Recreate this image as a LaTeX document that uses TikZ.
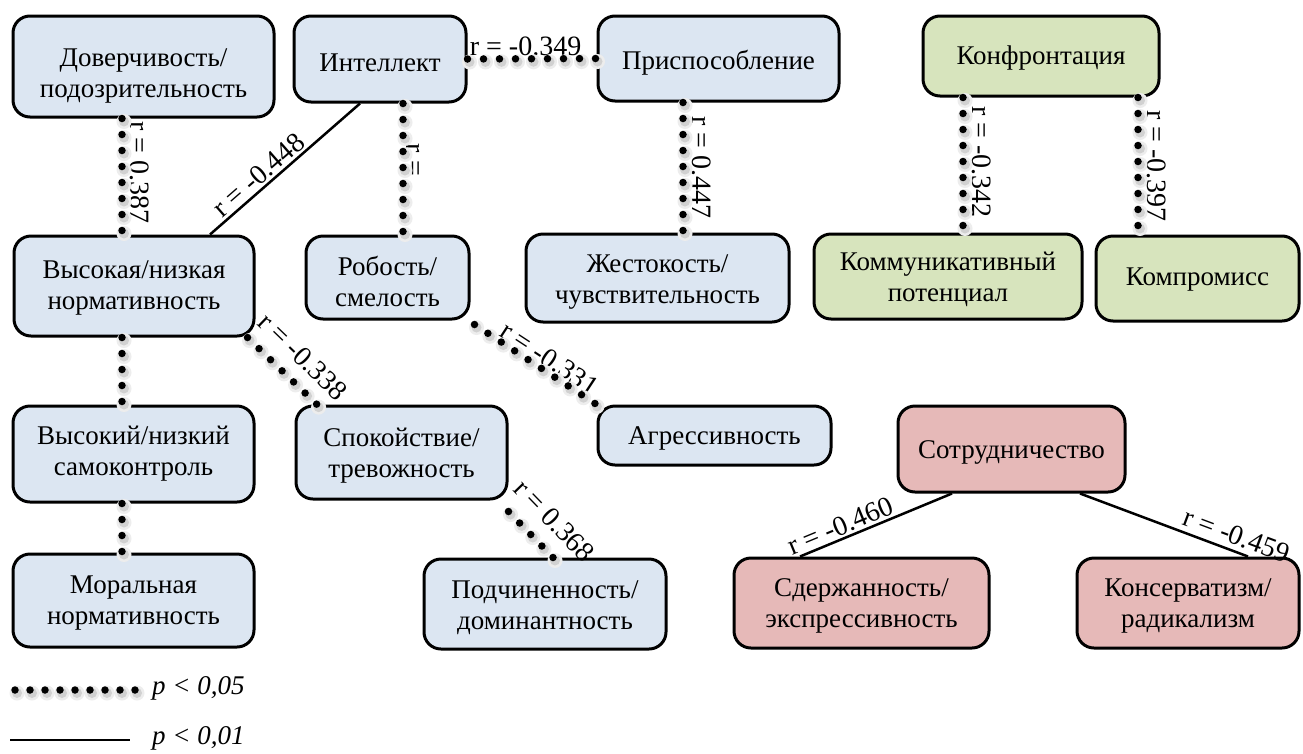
\documentclass[tikz,border=0pt]{standalone}
\usepackage{fontspec}
\setmainfont{Liberation Serif}
\usetikzlibrary{calc}
\definecolor{bl}{HTML}{DCE6F2}
\definecolor{gr}{HTML}{D7E4BD}
\definecolor{rd}{HTML}{E6B9B8}
\newcommand\dlink[2]{%
  \draw[dshadowA] (#1) -- (#2);
  \draw[dshadowB] (#1) -- (#2);
  \draw[dotcon] (#1) -- (#2);}
\begin{document}
\begin{tikzpicture}[x=1pt,y=-1pt,
  box/.style={draw, line width=3pt, rounded corners=17pt, inner sep=0pt},
  bbox/.style={box, fill=bl},
  gbox/.style={box, fill=gr},
  rbox/.style={box, fill=rd},
  txt/.style={align=center, inner sep=0pt, font=\fontsize{27}{31}\selectfont},
  lab/.style={font=\fontsize{28}{30}\selectfont, inner sep=0pt},
  solidcon/.style={line width=2.5pt},
  dotcon/.style={line width=7.5pt, line cap=round, dash pattern=on 0pt off 16pt},
  dshadowA/.style={black!7, line width=15pt, line cap=round, dash pattern=on 0pt off 16pt,
                   transform canvas={xshift=2pt,yshift=-3pt}},
  dshadowB/.style={black!18, line width=10pt, line cap=round, dash pattern=on 0pt off 16pt,
                   transform canvas={xshift=2pt,yshift=-3pt}},
  legdot/.style={line width=7.5pt, line cap=round, dash pattern=on 0pt off 15pt}
]
\useasboundingbox (0,0) rectangle (1303,753);
\fill[white] (0,0) rectangle (1303,753);

% boxes
\node[bbox, minimum width=261pt, minimum height=101pt] (dov) at (143.5,66.5) {};
\node[bbox, minimum width=172pt, minimum height=86pt] (int) at (380,59) {};
\node[bbox, minimum width=241pt, minimum height=85pt] (pri) at (718.5,58.5) {};
\node[gbox, minimum width=236pt, minimum height=80pt] (kon) at (1041,56) {};
\node[bbox, minimum width=240pt, minimum height=100pt] (vys) at (134,286) {};
\node[bbox, minimum width=163pt, minimum height=83pt] (rob) at (387.5,277.5) {};
\node[bbox, minimum width=263pt, minimum height=88pt] (zhe) at (657.5,278) {};
\node[gbox, minimum width=268pt, minimum height=85pt] (kom) at (948,276.5) {};
\node[gbox, minimum width=203pt, minimum height=85pt] (kmp) at (1197.5,278.5) {};
\node[bbox, minimum width=241pt, minimum height=96pt] (sam) at (133.5,454) {};
\node[bbox, minimum width=211pt, minimum height=93pt] (spo) at (401.5,452.5) {};
\node[bbox, minimum width=233pt, minimum height=59pt] (agr) at (714.5,435.5) {};
\node[rbox, minimum width=227pt, minimum height=86pt] (sot) at (1011.5,449) {};
\node[bbox, minimum width=241pt, minimum height=93pt] (mor) at (133.5,600.5) {};
\node[bbox, minimum width=242pt, minimum height=90pt] (pod) at (545,604) {};
\node[rbox, minimum width=255pt, minimum height=90pt] (sde) at (861.5,603) {};
\node[rbox, minimum width=222pt, minimum height=90pt] (kns) at (1188,603) {};

% box texts
\node[txt] (dovt) at ($(dov.center)+(0,9)$) {Доверчивость/\\подозрительность};
\node[txt] (intt) at ($(int.center)+(0,4)$) {Интеллект};
\node[txt] (prit) at ($(pri.center)+(0,4)$) {Приспособление};
\node[txt] (kont) at ($(kon.center)+(0,2)$) {Конфронтация};
\node[txt] (vyst) at ($(vys.center)+(0,1.5)$) {Высокая/низкая\\нормативность};
\node[txt] (robt) at ($(rob.center)+(0,4)$) {Робость/\\смелость};
\node[txt] (zhet) at ($(zhe.center)+(0,4.5)$) {Жестокость/\\чувствительность};
\node[txt] (komt) at ($(kom.center)+(0,2.5)$) {Коммуникативный\\потенциал};
\node[txt] (kmpt) at ($(kmp.center)+(0,1.5)$) {Компромисс};
\node[txt] (samt) at ($(sam.center)+(0,0)$) {Высокий/низкий\\самоконтроль};
\node[txt] (spot) at ($(spo.center)+(0,3)$) {Спокойствие/\\тревожность};
\node[txt] (agrt) at ($(agr.center)+(0,3)$) {Агрессивность};
\node[txt] (sott) at ($(sot.center)+(0,3)$) {Сотрудничество};
\node[txt] (mort) at ($(mor.center)+(0,2.5)$) {Моральная\\нормативность};
\node[txt] (podt) at ($(pod.center)+(0,3.5)$) {Подчиненность/\\доминантность};
\node[txt] (sdet) at ($(sde.center)+(0,3)$) {Сдержанность/\\экспрессивность};
\node[txt] (knst) at ($(kns.center)+(0,3)$) {Консерватизм/\\радикализм};

% connector end points
\coordinate (a1) at ([xshift=-21.5pt]dov.south);
\coordinate (b1) at (a1 |- vys.north);
\coordinate (a4) at ([xshift=23pt]int.south);
\coordinate (b4) at (a4 |- rob.north);
\coordinate (a5) at ([xshift=-35.5pt]pri.south);
\coordinate (b5) at (a5 |- zhe.north);
\coordinate (a6) at ([xshift=-78pt]kon.south);
\coordinate (b6) at (a6 |- kom.north);
\coordinate (a7) at ([xshift=97pt]kon.south);
\coordinate (b7) at (a7 |- kmp.north);
\coordinate (a8) at ([xshift=-12pt]vys.south);
\coordinate (b8) at (a8 |- sam.north);
\coordinate (a9) at ([xshift=-11.5pt]sam.south);
\coordinate (b9) at (a9 |- mor.north);
\coordinate (a10) at ([xshift=-8pt]vys.south east);
\coordinate (b10) at ([xshift=-84.5pt]spo.north);
\coordinate (a11) at ([xshift=4pt,yshift=-4pt]rob.south east);
\coordinate (b11) at (agr.north west);
\coordinate (a12) at ([yshift=-11pt]spo.south east);
\coordinate (b12) at ([xshift=8pt]pod.north);

% vertical labels
\node[lab, rotate=-90, anchor=base] at ($(a1)!0.5!(b1)+(8,-4)$) {r = 0.387};
\node[lab, rotate=-90, anchor=base] at ($(a4)!0.5!(b4)+(3,-9)$) {r =};
\node[lab, rotate=-90, anchor=base] at ($(a5)!0.5!(b5)+(9,0)$) {r = 0.447};
\node[lab, rotate=-90, anchor=base] at ($(a6)!0.5!(b6)+(9,-3)$) {r = -0.342};
\node[lab, rotate=-90, anchor=base] at ($(a7)!0.5!(b7)+(9,0)$) {r = -0.397};
% sloped labels on dotted links
\path (int.east) -- node[lab, above=3pt, pos=0.45] {r = -0.349} (pri.west);
\path (a10) -- node[lab, sloped, above=15pt, pos=0.55] {r = -0.338} (b10);
\path (a11) -- node[lab, sloped, above=3pt, pos=0.56] {r = -0.331} (b11);
\path (a12) -- node[lab, sloped, above=17pt, pos=0.6] {r = 0.368} (b12);

% dotted links
\dlink{a1}{b1}
\dlink{int.east}{pri.west}
\dlink{a4}{b4}
\dlink{a5}{b5}
\dlink{a6}{b6}
\dlink{a7}{b7}
\dlink{a8}{b8}
\dlink{a9}{b9}
\dlink{a10}{b10}
\dlink{a11}{b11}
\dlink{a12}{b12}

% solid links
\draw[solidcon] ([xshift=76pt]vys.north) -- node[lab, sloped, above=2pt, pos=0.38] {r = -0.448} ([xshift=-20pt]int.south);
\draw[solidcon] ([xshift=-61.5pt]sde.north) -- node[lab, sloped, above=2pt, pos=0.3] {r = -0.460} ([xshift=-59.5pt]sot.south);
\draw[solidcon] ([xshift=68.5pt]sot.south) -- node[lab, sloped, above=5pt, pos=0.9] {r = -0.459} ([xshift=60pt]kns.north);

% legend
\coordinate (l1a) at (15,690);
\coordinate (l1b) at (135,690);
\coordinate (l2a) at (10,740);
\coordinate (l2b) at (130,740);
\draw[dshadowA, dash pattern=on 0pt off 15pt] (l1a) -- (l1b);
\draw[dshadowB, dash pattern=on 0pt off 15pt] (l1a) -- (l1b);
\draw[legdot] (l1a) -- (l1b);
\draw[solidcon] (l2a) -- (l2b);
\node[lab, anchor=west, font=\fontsize{27}{30}\selectfont\itshape] (t1) at (152,688) {p < 0,05};
\node[lab, anchor=west, font=\fontsize{27}{30}\selectfont\itshape] (t2) at (152,738) {p < 0,01};
\end{tikzpicture}
\end{document}
